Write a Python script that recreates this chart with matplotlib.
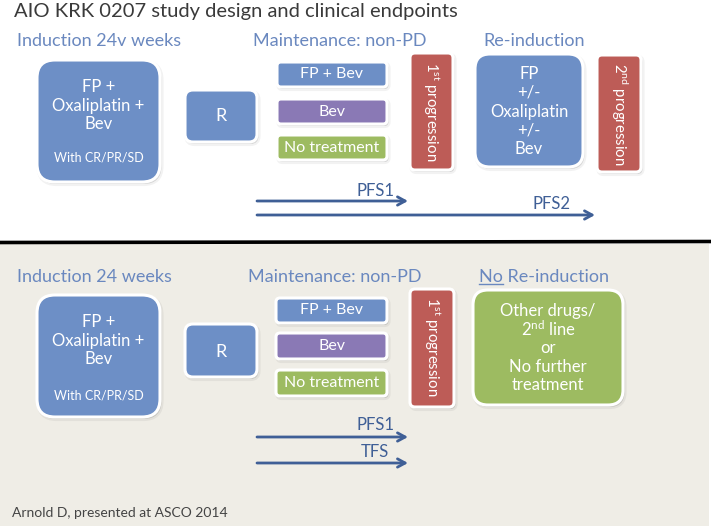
import matplotlib
matplotlib.use("Agg")
import matplotlib.pyplot as plt
from matplotlib.patches import FancyBboxPatch, Rectangle

plt.rcParams['font.family'] = ['Lato', 'DejaVu Sans']
plt.rcParams['mathtext.fontset'] = 'custom'
plt.rcParams['mathtext.rm'] = 'Lato'
plt.rcParams['mathtext.it'] = 'Lato:italic'
plt.rcParams['mathtext.bf'] = 'Lato:bold'

# ---- content ----
title = "AIO KRK 0207 study design and clinical endpoints"
top_headers = ["Induction 24v weeks", "Maintenance: non-PD", "Re-induction"]
bottom_headers = ["Induction 24 weeks", "Maintenance: non-PD", "No Re-induction"]
induction_lines = ["FP +", "Oxaliplatin +", "Bev"]
response_label = "With CR/PR/SD"
random_label = "R"
maintenance_arms = ["FP + Bev", "Bev", "No treatment"]
first_prog = "1$^{\\mathrm{st}}$ progression"
second_prog = "2$^{\\mathrm{nd}}$ progression"
reinduction_lines = ["FP", "+/-", "Oxaliplatin", "+/-", "Bev"]
no_reinduction_lines = ["Other drugs/", "2$^{\\mathrm{nd}}$ line", "or", "No further", "treatment"]
top_endpoints = ["PFS1", "PFS2"]
bottom_endpoints = ["PFS1", "TFS"]
footer = "Arnold D, presented at ASCO 2014"

# ---- styles ----
BLUE = "#6d8fc6"
PURPLE = "#8a79b5"
GREEN = "#9dbb61"
RED = "#bd5c57"
HEAD = "#6a88bf"
ARROW = "#3f5f96"
BEIGE = "#efede6"
arm_colors = [BLUE, PURPLE, GREEN]

fig = plt.figure(figsize=(7.11, 5.26), dpi=100)
ax = fig.add_axes([0, 0, 1, 1])
ax.set_xlim(0, 711)
ax.set_ylim(526, 0)
ax.axis("off")
fig.patch.set_facecolor("white")

# lower panel background
ax.add_patch(Rectangle((0, 244), 709, 282, facecolor=BEIGE, edgecolor="none", zorder=0))
ax.plot([0, 711], [242.5, 241.5], color="black", lw=2.6, zorder=1, solid_capstyle="butt")


def box(x0, y0, x1, y1, color, r):
    w, h = x1 - x0, y1 - y0
    sh = FancyBboxPatch((x0 + 1.5, y0 + 2.0), w, h, boxstyle=f"round,pad=0,rounding_size={r}",
                        facecolor=(0, 0, 0, 0.12), edgecolor=(0, 0, 0, 0.05), lw=3, zorder=2)
    ax.add_patch(sh)
    p = FancyBboxPatch((x0, y0), w, h, boxstyle=f"round,pad=0,rounding_size={r}",
                       facecolor=color, edgecolor="white", lw=2.2, zorder=3)
    ax.add_patch(p)


def wtext(x, y, s, size, **kw):
    ax.text(x, y, s, color="white", fontsize=size, ha="center", va="center", zorder=4, **kw)


def arrow(x0, x1, y):
    ax.annotate("", xy=(x1, y), xytext=(x0, y),
                arrowprops=dict(arrowstyle="->,head_length=0.55,head_width=0.3",
                                color=ARROW, lw=2.0, shrinkA=0, shrinkB=0), zorder=4)


ax.text(14, 12, title, fontsize=14.5, color="#3a3a3a", ha="left", va="center")

# ---------- top panel ----------
hx = [17, 253, 483]
for x, s in zip(hx, top_headers):
    ax.text(x, 41, s, fontsize=13, color=HEAD, ha="left", va="center")

box(37, 60, 160, 182, BLUE, 18)
for y, s in zip([87, 106, 124], induction_lines):
    wtext(98.5, y, s, 12)
wtext(98.5, 158, response_label, 9)

box(185, 90, 257, 142, BLUE, 8)
wtext(221, 116, random_label, 13)

for (y0, y1), s, c in zip([(62, 87), (99, 124), (135, 160)], maintenance_arms, arm_colors):
    box(277, y0, 387, y1, c, 4)
    wtext(332, (y0 + y1) / 2, s, 11.5)

box(410, 53, 453, 170, RED, 5)
ax.text(431.5, 112, first_prog, rotation=270, fontsize=10.8, color="white", ha="center", va="center", zorder=4)

box(475, 54, 583, 167, BLUE, 15)
for y, s in zip([74, 93, 112, 131, 149], reinduction_lines):
    wtext(529, y, s, 12)

box(597, 55, 641, 172, RED, 5)
ax.text(619, 114, second_prog, rotation=270, fontsize=10.8, color="white", ha="center", va="center", zorder=4)

arrow(257, 408, 201)
arrow(257, 595, 215)
ax.text(376, 191, top_endpoints[0], fontsize=12, color=ARROW, ha="center", va="center")
ax.text(552, 204, top_endpoints[1], fontsize=12, color=ARROW, ha="center", va="center")

# ---------- bottom panel ----------
for x, s in zip([17, 248, 479], bottom_headers):
    ax.text(x, 277, s, fontsize=13, color=HEAD, ha="left", va="center")

# underline "No"
fig.canvas.draw()
rend = fig.canvas.get_renderer()
tmp = ax.text(479, 277, bottom_headers[2].split(" ")[0], fontsize=13, ha="left", va="center")
bb = tmp.get_window_extent(rend)
tmp.remove()
inv = ax.transData.inverted()
(xa, _), (xb, _) = inv.transform([(bb.x0, bb.y0), (bb.x1, bb.y0)])
ax.plot([xa, xb], [284, 284], color=HEAD, lw=1.0)

box(37, 295, 160, 417, BLUE, 18)
for y, s in zip([322, 341, 359], induction_lines):
    wtext(98.5, y, s, 12)
wtext(98.5, 395, response_label, 9)

box(185, 324, 257, 377, BLUE, 8)
wtext(221, 352, random_label, 13)

for (y0, y1), s, c in zip([(298, 323), (333, 359), (370, 396)], maintenance_arms, arm_colors):
    box(276, y0, 387, y1, c, 4)
    wtext(331.5, (y0 + y1) / 2, s, 11.5)

box(410, 289, 454, 407, RED, 5)
ax.text(432, 347, first_prog, rotation=270, fontsize=10.8, color="white", ha="center", va="center", zorder=4)

box(473, 290, 623, 405, GREEN, 15)
for y, s in zip([311, 329, 348, 367, 385], no_reinduction_lines):
    wtext(548, y, s, 12)

arrow(257, 408, 437)
arrow(257, 408, 463)
ax.text(375, 425, bottom_endpoints[0], fontsize=12, color=ARROW, ha="center", va="center")
ax.text(375, 452, bottom_endpoints[1], fontsize=12, color=ARROW, ha="center", va="center")

ax.text(12, 513, footer, fontsize=10, color="#444444", ha="left", va="center")

fig.savefig("out.png", dpi=100)
